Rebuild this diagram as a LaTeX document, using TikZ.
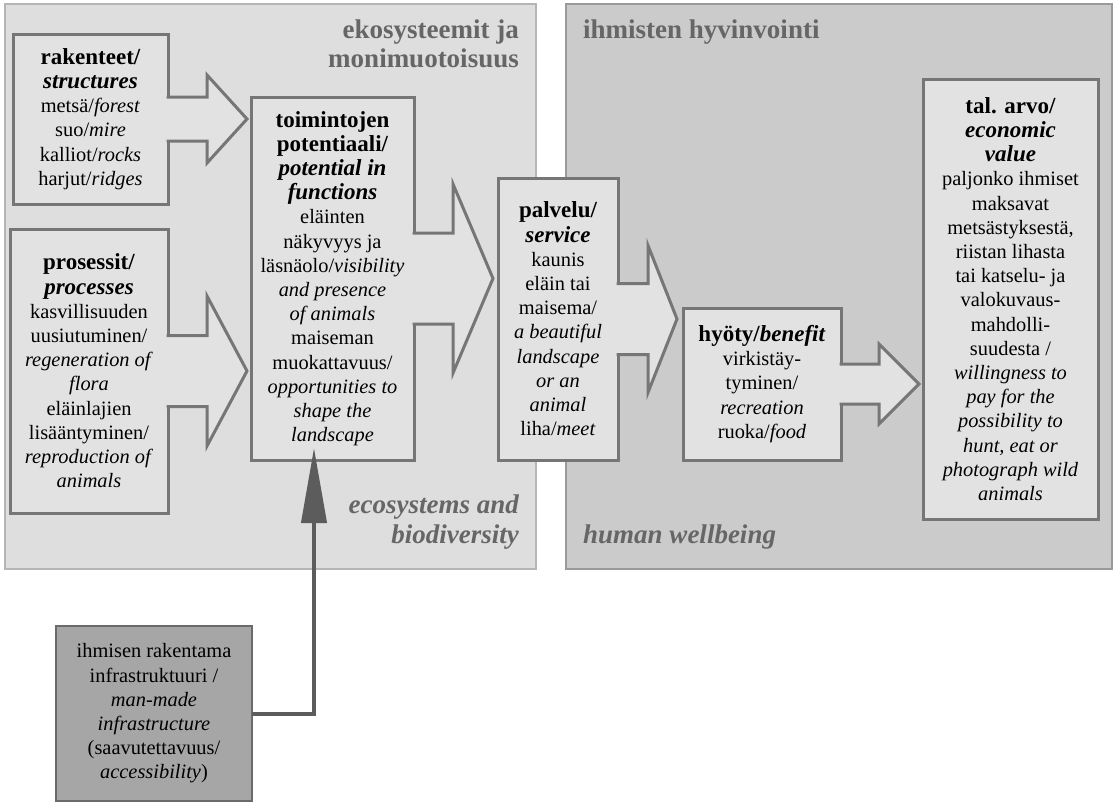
\documentclass[tikz,border=0pt]{standalone}
\usepackage{fontspec}
\setmainfont{Liberation Serif}
\usetikzlibrary{arrows.meta}

\definecolor{ecofill}{HTML}{DEDEDE}
\definecolor{ecoline}{HTML}{B5B5B5}
\definecolor{humfill}{HTML}{CBCBCB}
\definecolor{humline}{HTML}{9A9A9A}
\definecolor{boxfill}{HTML}{E2E2E2}
\definecolor{boxline}{HTML}{767676}
\definecolor{infrafill}{HTML}{A6A6A6}
\definecolor{infraline}{HTML}{6A6A6A}
\definecolor{arrowgray}{HTML}{5C5C5C}
\definecolor{hdrgray}{HTML}{666666}

\newcommand{\bodysize}{\fontsize{20.4}{24.2}\selectfont}
\newcommand{\hd}[1]{{\fontsize{23}{25}\selectfont\bfseries #1}}

\begin{document}
\begin{tikzpicture}[x=1pt, y=-1pt,
  ecopanel/.style={draw=ecoline, fill=ecofill, line width=1.5pt},
  humpanel/.style={draw=humline, fill=humfill, line width=1.5pt},
  box/.style={draw=boxline, fill=boxfill, line width=3pt, align=center, inner sep=0pt, outer sep=0pt, font=\bodysize},
  infrabox/.style={box, draw=infraline, fill=infrafill, line width=2pt},
  arrowline/.style={draw=boxline, line width=3pt},
  infraarrow/.style={draw=arrowgray, line width=4pt, -{Triangle[length=75pt, width=25pt]}},
  hdr/.style={text=hdrgray, inner sep=0pt, font=\fontsize{27}{30}\selectfont\bfseries},
  hdrit/.style={hdr, font=\fontsize{27}{30}\selectfont\bfseries\itshape}]
  \useasboundingbox (0,0) rectangle (1117,803);

  % panels
  \draw[ecopanel] (5,4) rectangle (536,569);
  \draw[humpanel] (566,4) rectangle (1112,569);
  \node[hdr, anchor=base east] (ekoA) at (519,38) {ekosysteemit ja};
  \node[hdr, anchor=base east] (ekoB) at (519,67) {monimuotoisuus};
  \node[hdrit, anchor=base east] (ecoA) at (519,513) {ecosystems and};
  \node[hdrit, anchor=base east] (ecoB) at (519,543) {biodiversity};
  \node[hdr, anchor=base west] (humA) at (583,38) {ihmisten hyvinvointi};
  \node[hdrit, anchor=base west] (humB) at (583,543) {human wellbeing};

  % boxes
  \node[box, minimum width=155pt, minimum height=170pt] (rak) at (90.5,119)
    {\hd{rakenteet/}\\\hd{\itshape structures}\\metsä/\emph{forest}\\suo/\emph{mire}\\kalliot/\emph{rocks}\\harjut/\emph{ridges}};
  \node[box, minimum width=158pt, minimum height=284pt] (pros) at (89,371)
    {\hd{prosessit/}\\\hd{\itshape processes}\\kasvillisuuden\\uusiutuminen/\\\emph{regeneration of}\\\emph{flora}\\eläinlajien\\lisääntyminen/\\\emph{reproduction of}\\\emph{animals}};
  \node[box, minimum width=163pt, minimum height=363pt] (toim) at (332.5,278.5)
    {\hd{toimintojen}\\\hd{potentiaali/}\\\hd{\itshape potential in}\\\hd{\itshape functions}\\eläinten\\näkyvyys ja\\läsnäolo/\emph{visibility}\\\emph{and presence}\\\emph{of animals}\\maiseman\\muokattavuus/\\\emph{opportunities to}\\\emph{shape the}\\\emph{landscape}};
  \node[box, minimum width=120pt, minimum height=282pt] (palv) at (558,319)
    {\hd{palvelu/}\\\hd{\itshape service}\\kaunis\\eläin tai\\maisema/\\\emph{a beautiful}\\\emph{landscape}\\\emph{or an}\\\emph{animal}\\liha/\emph{meet}};
  \node[box, minimum width=158pt, minimum height=152pt] (hyot) at (762,384)
    {\hd{hyöty/\emph{benefit}}\\virkistäy-\\tyminen/\\\emph{recreation}\\ruoka/\emph{food}};
  \node[box, minimum width=175pt, minimum height=440pt] (tal) at (1010.5,299)
    {\hd{tal. arvo/}\\\hd{\itshape economic}\\\hd{\itshape value}\\paljonko ihmiset\\maksavat\\metsästyksestä,\\riistan lihasta\\tai katselu- ja\\valokuvaus-\\mahdolli-\\suudesta /\\\emph{willingness to}\\\emph{pay for the}\\\emph{possibility to}\\\emph{hunt, eat or}\\\emph{photograph wild}\\\emph{animals}};
  \node[infrabox, minimum width=196pt, minimum height=175pt] (infra) at (154,713.5)
    {ihmisen rakentama\\infrastruktuuri /\\\emph{man-made}\\\emph{infrastructure}\\(saavutettavuus/\\\emph{accessibility})};

  % block arrows: name/shaft half/head half/shaft length/head length
  \foreach \n/\s/\h/\a/\b in {rak/22/44/39/40, pros/35.5/75/39/40, toim/45.5/94.5/39/40, palv/35.5/73.5/30/29, hyot/20/40/38/40}
  {
    \fill[boxfill] ([xshift=-2pt, yshift=\s pt]\n.east) -- ++(\a+2,0) -- ++(0,\s-\h) -- ++(\b,\h) -- ++(-\b,\h) -- ++(0,\s-\h) -- ++(-\a-2,0) -- cycle;
    \draw[arrowline] ([xshift=-1.5pt, yshift=\s pt]\n.east) -- ++(\a+1.5,0) -- ++(0,\s-\h) -- ++(\b,\h) -- ++(-\b,\h) -- ++(0,\s-\h) -- ++(-\a-1.5,0);
  }

  \coordinate (infratip) at (314,448);
  \draw[infraarrow] (infra.east) -| (infratip);
\end{tikzpicture}
\end{document}
